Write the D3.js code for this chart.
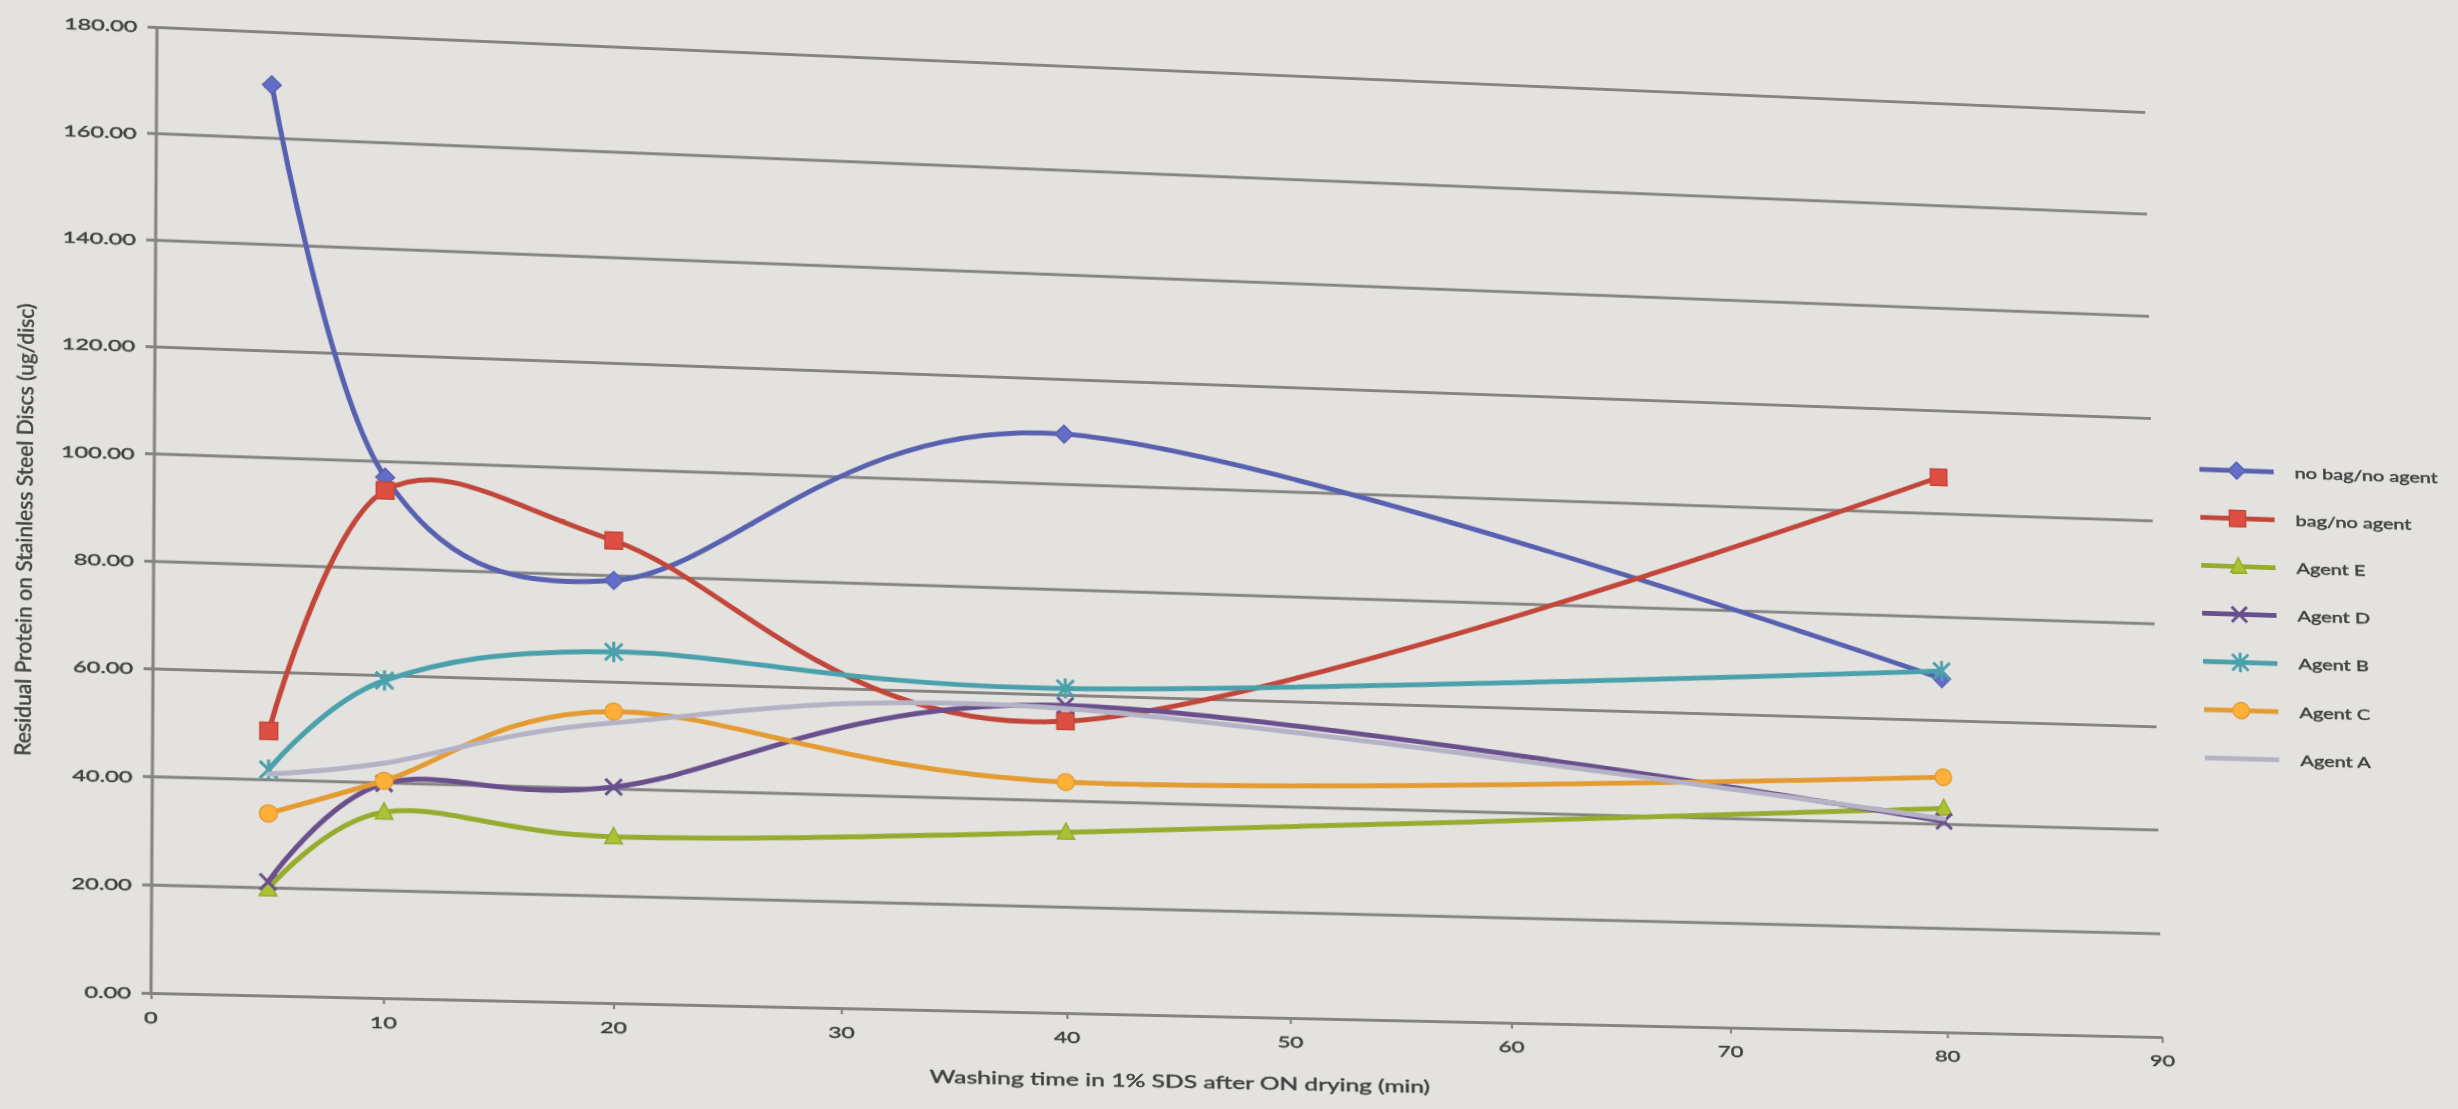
<!DOCTYPE html>
<html>
<head>
<meta charset="utf-8">
<script src="https://cdn.jsdelivr.net/npm/d3@7"></script>
<style>
  html, body { margin: 0; padding: 0; background: #e3e2df; overflow: hidden; }
  svg { position: absolute; left: 0; top: 0; transform-origin: 0 0; }
  text { font-family: Lato, "Open Sans", sans-serif; fill: #3f3f3f; stroke: #3f3f3f; stroke-width: 0.45px; }
</style>
</head>
<body>
<svg id="chart" width="2458" height="1109"></svg>
<script>
// Washing time (min) at which residual protein was measured
const times = [5, 10, 20, 40, 80];

// Residual protein on stainless steel discs (ug/disc)
const noBagNoAgent = [170, 97, 79, 109.5, 68];
const bagNoAgent   = [49, 94.5, 86.5, 55, 107];
const agentE       = [19.7, 34.5, 31, 34, 43];
const agentD       = [21, 39.8, 40.3, 58, 40.5];
const agentB       = [41.8, 59, 65.6, 61.2, 69.5];
const agentC       = [33.7, 40.3, 54.4, 43.5, 49];
const agentA       = [41, 43.6, 52.3, 57.4, 41];

const seriesNames  = ["no bag/no agent", "bag/no agent", "Agent E", "Agent D", "Agent B", "Agent C", "Agent A"];
const seriesValues = [noBagNoAgent, bagNoAgent, agentE, agentD, agentB, agentC, agentA];
const seriesColors = ["#5860b0", "#c2463a", "#97ab2e", "#694f8c", "#4aa0ab", "#e49b32", "#b6b2c6"];
const seriesMarkers = ["diamond", "square", "triangle", "x", "asterisk", "circle", "none"];

const xTicks = [0, 10, 20, 30, 40, 50, 60, 70, 80, 90];
const yTicks = [0, 20, 40, 60, 80, 100, 120, 140, 160, 180];

const xTitle = "Washing time in 1% SDS after ON drying (min)";
const yTitle = "Residual Protein on Stainless Steel Discs (ug/disc)";

// ---- layout of the flat chart ----
const L = 151, T = 27, PW = 2000, PH = 966;
const textStretch = 1.4;

// corners of the plot area once the chart plane is tilted (TL, TR, BR, BL)
const tiltedPlot = [[157, 27], [2145, 112], [2162, 1037], [151, 993]];

function planeTransform(quad) {
  const [[x0, y0], [x1, y1], [x2, y2], [x3, y3]] = quad;
  const dx1 = x1 - x2, dx2 = x3 - x2, dx3 = x0 - x1 + x2 - x3;
  const dy1 = y1 - y2, dy2 = y3 - y2, dy3 = y0 - y1 + y2 - y3;
  const det = dx1 * dy2 - dx2 * dy1;
  const g = (dx3 * dy2 - dx2 * dy3) / det;
  const h = (dx1 * dy3 - dx3 * dy1) / det;
  const a = x1 - x0 + g * x1, b = x3 - x0 + h * x3, c = x0;
  const d = y1 - y0 + g * y1, e = y3 - y0 + h * y3, f = y0;
  const m = [
    [a / PW, b / PH, c - a * L / PW - b * T / PH],
    [d / PW, e / PH, f - d * L / PW - e * T / PH],
    [g / PW, h / PH, 1 - g * L / PW - h * T / PH]
  ];
  return `matrix3d(${m[0][0]},${m[1][0]},0,${m[2][0]},${m[0][1]},${m[1][1]},0,${m[2][1]},0,0,1,0,${m[0][2]},${m[1][2]},0,${m[2][2]})`;
}

const svg = d3.select("#chart");
svg.style("transform", planeTransform(tiltedPlot));

const x = d3.scaleLinear().domain([0, 90]).range([L, L + PW]);
const y = d3.scaleLinear().domain([0, 180]).range([T + PH, T]);

const gridColor = "#858482";

// horizontal gridlines with small outside ticks on the left
const yAxis = d3.axisLeft(y).tickValues(yTicks).tickSize(-PW).tickSizeOuter(0).tickFormat("");
const gy = svg.append("g").attr("transform", `translate(${L},0)`).call(yAxis);
gy.select(".domain").remove();
gy.selectAll(".tick line").attr("stroke", gridColor).attr("stroke-width", 3).attr("x1", -9);

// y axis line
svg.append("line")
  .attr("x1", L).attr("x2", L).attr("y1", y(180)).attr("y2", y(0))
  .attr("stroke", gridColor).attr("stroke-width", 3);

// x axis with short downward ticks
const xAxis = d3.axisBottom(x).tickValues(xTicks).tickSize(6).tickSizeOuter(0).tickFormat("");
const gx = svg.append("g").attr("transform", `translate(0,${T + PH})`).call(xAxis);
gx.select(".domain").attr("stroke", gridColor).attr("stroke-width", 3);
gx.selectAll(".tick line").attr("stroke", gridColor).attr("stroke-width", 2.2);

// stretched text helper
function label(parent, tx, ty, str, size, anchor, rotate) {
  const g = parent.append("g")
    .attr("transform", `translate(${tx},${ty}) scale(${rotate ? 1 : textStretch},1)` + (rotate ? ` rotate(${rotate})` : ""));
  g.append("text")
    .attr("text-anchor", anchor)
    .attr("dominant-baseline", "central")
    .style("font-size", size + "px")
    .text(str);
  return g;
}

// tick labels
yTicks.forEach(v => label(svg, L - 19, y(v), d3.format(".2f")(v), 16, "end"));
xTicks.forEach(v => label(svg, x(v), T + PH + 24, String(v), 16, "middle"));

// axis titles
label(svg, L + PW / 2 + 2, T + PH + 66, xTitle, 17.5, "middle");
label(svg, 27, 536, yTitle, 21, "middle", -90);

// ---- series ----
const line = d3.line()
  .x((d, i) => x(times[i]))
  .y(d => y(d))
  .curve(d3.curveCardinal.tension(0));

function markerPath(kind, s) {
  switch (kind) {
    case "diamond":  return `M0,${-s}L${s},0L0,${s}L${-s},0Z`;
    case "square":   return `M${-s},${-s}H${s}V${s}H${-s}Z`;
    case "triangle": return `M0,${-s * 1.1}L${s},${s * 0.8}L${-s},${s * 0.8}Z`;
    case "circle":   return d3.symbol(d3.symbolCircle, Math.PI * s * s)();
    case "x":        return `M${-s},${-s}L${s},${s}M${-s},${s}L${s},${-s}`;
    case "asterisk": return `M${-s},${-s}L${s},${s}M${-s},${s}L${s},${-s}M0,${-s * 1.2}V${s * 1.2}`;
    default:         return "";
  }
}
const markerSize = { diamond: 9, square: 8.5, triangle: 8.5, circle: 8.5, x: 8, asterisk: 8.5, none: 0 };

function drawMarker(parent, kind, color, cx, cy) {
  if (kind === "none") return;
  const stroked = kind === "x" || kind === "asterisk";
  parent.append("path")
    .attr("transform", `translate(${cx},${cy})`)
    .attr("d", markerPath(kind, markerSize[kind]))
    .attr("fill", stroked ? "none" : d3.color(color).brighter(0.35))
    .attr("stroke", color)
    .attr("stroke-width", stroked ? 3 : 1.5);
}

const plot = svg.append("g");
seriesValues.forEach((vals, si) => {
  const color = seriesColors[si];
  const g = plot.append("g");
  g.append("path")
    .attr("d", line(vals))
    .attr("fill", "none")
    .attr("stroke", color)
    .attr("stroke-width", 5)
    .attr("stroke-linecap", "round");
  vals.forEach((v, i) => drawMarker(g, seriesMarkers[si], color, x(times[i]), y(v)));
});

// ---- legend ----
const legend = svg.append("g").attr("transform", "translate(2201,401)");
seriesNames.forEach((name, i) => {
  const row = legend.append("g").attr("transform", `translate(0,${i * 50.2})`);
  row.append("line")
    .attr("x1", 0).attr("x2", 78).attr("y1", 0).attr("y2", 0)
    .attr("stroke", seriesColors[i]).attr("stroke-width", 5);
  drawMarker(row, seriesMarkers[i], seriesColors[i], 39, 0);
  label(row, 100, 0, name, 15, "start");
});
</script>
</body>
</html>
